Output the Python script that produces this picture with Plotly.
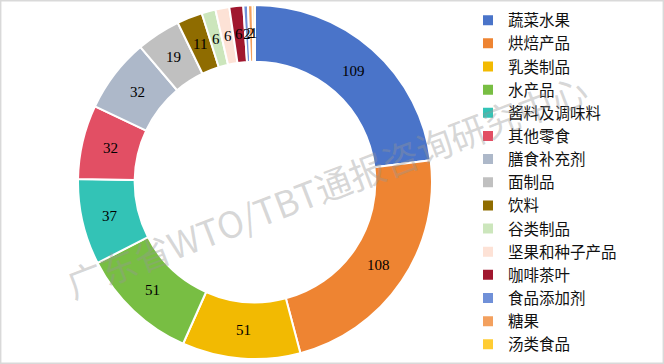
import math
import plotly.graph_objects as go

categories = ["蔬菜水果", "烘焙产品", "乳类制品", "水产品", "酱料及调味料", "其他零食",
              "膳食补充剂", "面制品", "饮料", "谷类制品", "坚果和种子产品", "咖啡茶叶",
              "食品添加剂", "糖果", "汤类食品"]
values = [109, 108, 51, 51, 37, 32, 32, 19, 11, 6, 6, 6, 2, 2, 1]
colors = ["#4A74C9", "#EE8432", "#F2BA02", "#78BE43", "#33C3B6", "#E24F64",
          "#ADB8C9", "#C0C0C0", "#8F6C00", "#CCE6BC", "#FDE2D6", "#A0172E",
          "#7090D8", "#F3A05E", "#FFCC33"]

W, H = 664, 364
cx, cy, r = 255, 182, 177
hole = 0.68

fig = go.Figure(go.Pie(
    labels=categories, values=values, sort=False, direction="clockwise", rotation=0,
    hole=hole,
    marker=dict(colors=colors, line=dict(color="white", width=2)),
    textinfo="none",
    domain=dict(x=[(cx - r) / W, (cx + r) / W], y=[(H - cy - r) / H, (H - cy + r) / H]),
))

# value labels at the middle of the ring, placed from the data's cumulative angles
total = sum(values)
rm = r * (1 + hole) / 2
annotations = []
cum = 0
for v in values:
    ang = 2 * math.pi * (cum + v / 2) / total
    cum += v
    px = cx + rm * math.sin(ang)
    py = cy - rm * math.cos(ang)
    annotations.append(dict(text=str(v), x=px / W, y=1 - py / H, xref="paper", yref="paper",
                            showarrow=False, xanchor="center", yanchor="middle",
                            font=dict(family="Liberation Serif", size=15, color="black")))

annotations.append(dict(text="广东省WTO/TBT通报咨询研究中心", x=326 / W, y=1 - 185 / H,
                        xref="paper", yref="paper", showarrow=False, textangle=-21,
                        font=dict(family="Noto Sans CJK SC", size=36, color="rgba(150,150,150,0.38)")))

fig.update_layout(
    width=W, height=H, margin=dict(l=0, r=0, t=0, b=0),
    paper_bgcolor="white", plot_bgcolor="white",
    legend=dict(x=468 / W, xanchor="left", y=0.99, yanchor="top",
                font=dict(family="Noto Sans CJK SC", size=15.5, color="#111"),
                bgcolor="rgba(0,0,0,0)"),
    shapes=[dict(type="rect", xref="paper", yref="paper", x0=0.001, y0=0.002, x1=0.999, y1=0.998,
                 line=dict(color="#D9D9D9", width=1.5))],
    annotations=annotations,
)

fig.write_html("out.html")
